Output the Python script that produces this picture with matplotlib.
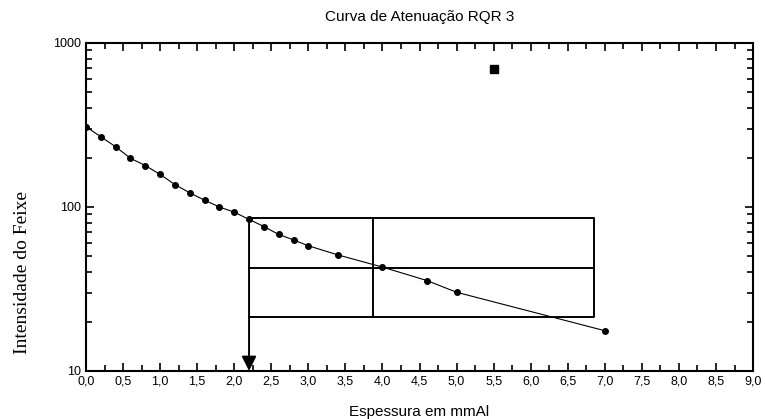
import matplotlib
matplotlib.use('Agg')
import matplotlib.pyplot as plt
from matplotlib.ticker import MultipleLocator, FixedLocator, NullFormatter, FuncFormatter

# espessura (mm Al) e intensidade do feixe
espessura = [0.0, 0.2, 0.4, 0.6, 0.8, 1.0, 1.2, 1.4, 1.6, 1.8, 2.0, 2.2,
             2.4, 2.6, 2.8, 3.0, 3.4, 4.0, 4.6, 5.0, 7.0]
intensidade = [309, 268, 233, 198, 179, 158, 137, 122, 110, 100, 93, 84,
               76, 68, 63, 58, 51, 43, 35.6, 30.2, 17.6]

# camada semirredutora / quarto-redutora
csr1 = 2.2
csr2 = 3.87
x_fim = 6.86
i0 = 85.3
ponto_x = [5.5]
ponto_y = [692]

plt.rcParams['font.family'] = ['Liberation Sans', 'DejaVu Sans']

fig = plt.figure(figsize=(7.65, 4.19), dpi=100)
ax = fig.add_axes([0.1124, 0.1146, 0.872, 0.7828])

ax.plot(espessura, intensidade, color='black', lw=0.8, marker='o', ms=4)
ax.plot(ponto_x, ponto_y, 's', color='black', ms=6)

# caixa
ax.plot([csr1, x_fim, x_fim, csr1], [i0, i0, i0 / 4, i0 / 4], color='black', lw=1.4)
ax.plot([csr1, x_fim], [i0 / 2, i0 / 2], color='black', lw=1.4)
ax.plot([csr2, csr2], [i0, i0 / 4], color='black', lw=1.4)
ax.annotate('', xy=(csr1, 10), xytext=(csr1, i0),
            arrowprops=dict(arrowstyle='-|>', color='black', lw=1.4,
                            mutation_scale=22, shrinkA=0, shrinkB=0))

ax.set_yscale('log')
ax.set_xlim(0, 9)
ax.set_ylim(10, 1000)

ax.xaxis.set_major_locator(MultipleLocator(0.5))
ax.xaxis.set_minor_locator(MultipleLocator(0.25))
ax.xaxis.set_major_formatter(FuncFormatter(lambda v, p: ('%.1f' % v).replace('.', ',')))
ax.yaxis.set_major_locator(FixedLocator([10, 100, 1000]))
ax.yaxis.set_minor_locator(FixedLocator([k * 10 ** d for d in (1, 2) for k in range(2, 10)]))
ax.yaxis.set_major_formatter(FuncFormatter(lambda v, p: '%d' % v))
ax.yaxis.set_minor_formatter(NullFormatter())

ax.tick_params(which='both', direction='in', top=True, right=True, labelsize=9, width=1.2)
ax.tick_params(which='major', length=6)
ax.tick_params(which='minor', length=4)
for s in ax.spines.values():
    s.set_linewidth(1.5)

ax.set_title('Curva de Atenuação RQR 3', fontsize=11, pad=16)
ax.set_xlabel('Espessura em mmAl', fontsize=11, labelpad=12)
ax.set_ylabel('Intensidade do Feixe', fontsize=14, family=['Liberation Serif'])
ax.yaxis.set_label_coords(-0.083, 0.30)

fig.savefig('out.png', dpi=100)
